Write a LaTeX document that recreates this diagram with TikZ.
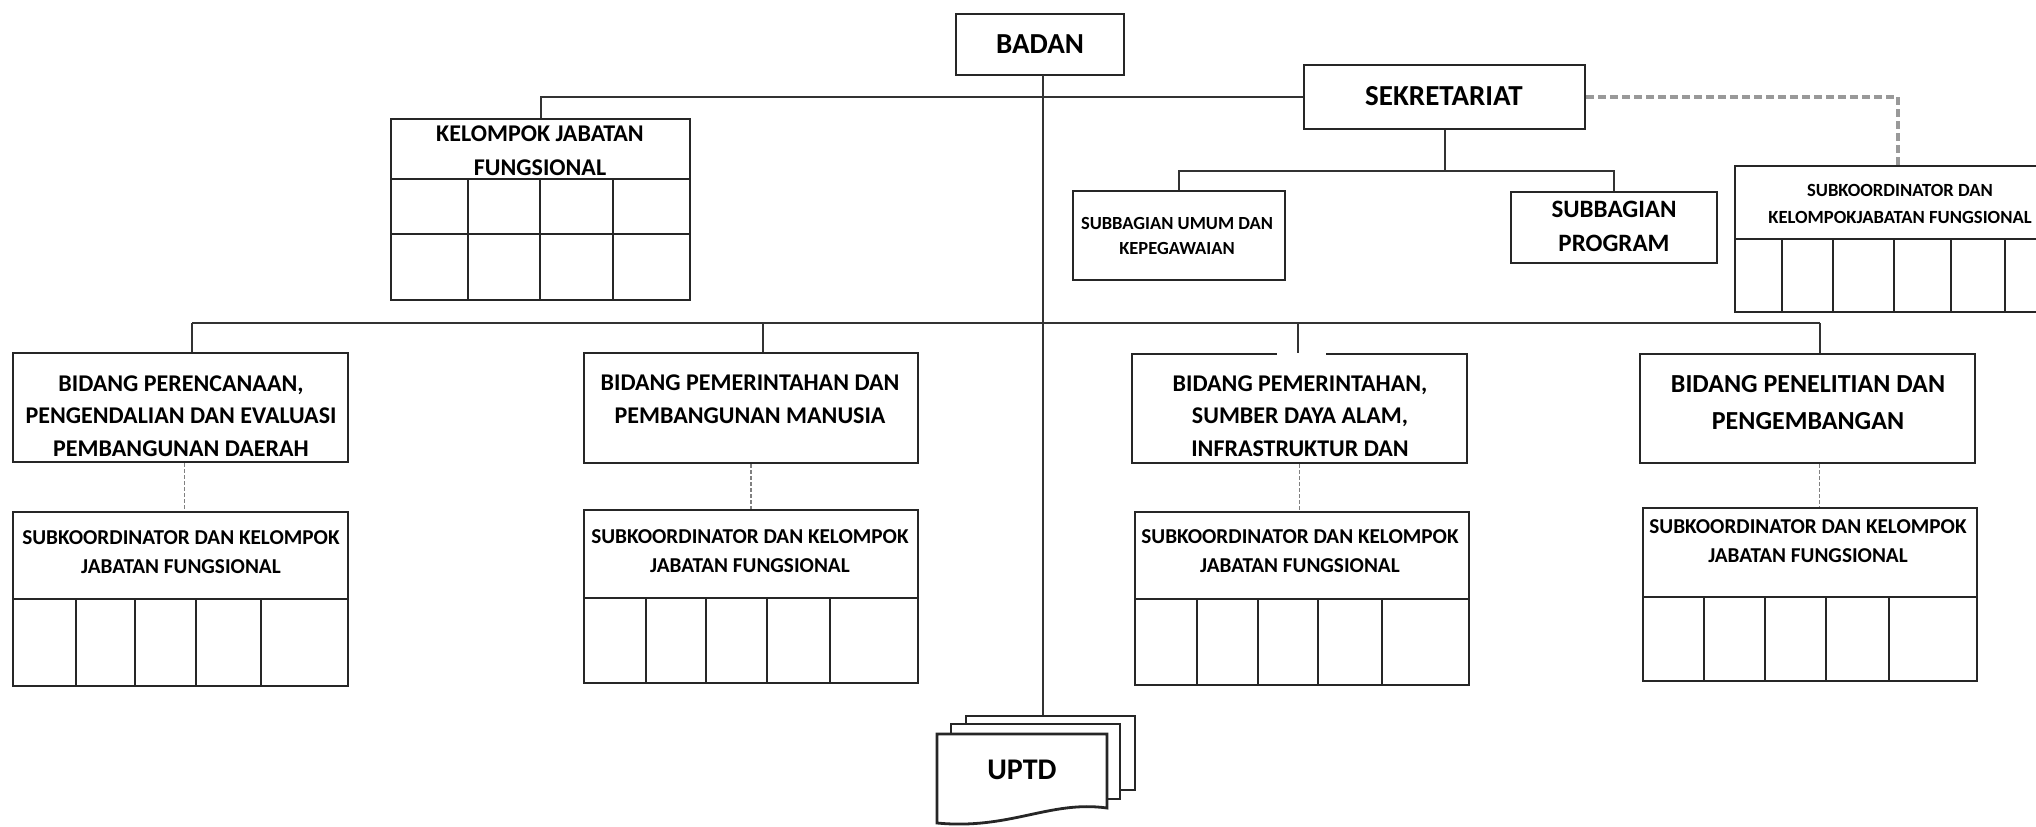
\documentclass[tikz,border=0pt]{standalone}
\usepackage{fontspec}
\setmainfont{Carlito}
\usetikzlibrary{fit}
\begin{document}
\begin{tikzpicture}[x=0.5pt,y=-0.5pt,
  box/.style={draw=black!85, line width=1.4pt, fill=white, inner sep=0pt},
  sheet/.style={draw=black!85, line width=1.4pt, fill=white},
  conn/.style={draw=black!80, line width=1pt},
  grid/.style={draw=black!85, line width=1.2pt},
  dashtop/.style={draw=black!40, line width=1.6pt, dash pattern=on 4pt off 2pt},
  dashsub/.style={draw=black!50, line width=0.9pt, dash pattern=on 1.8pt off 1.2pt},
  lbl/.style={align=center, inner sep=0pt, text=black},
  fA/.style={lbl, font=\bfseries\fontsize{14.5}{17}\selectfont},
  fB/.style={lbl, font=\bfseries\fontsize{12}{16.25}\selectfont},
  fC/.style={lbl, font=\bfseries\fontsize{10.6}{14.5}\selectfont},
  fD/.style={lbl, font=\bfseries\fontsize{9.3}{13.5}\selectfont},
]
\useasboundingbox (0,0) rectangle (2036,826);
\clip (0,0) rectangle (2036,826);
\fill[white] (0,0) rectangle (2036,826);

% ---------- boxes ----------
\node[box, fit={(956,14) (1124,75)}] (badan) {};
\node[box, fit={(1304,65) (1585,129)}] (sek) {};
\node[box, fit={(1073,191) (1285,280)}] (sbu) {};
\node[box, fit={(1511,192) (1717,263)}] (sbp) {};
\node[box, fit={(1735,166) (2060,312)}] (sk0) {};
\node[box, fit={(391,119) (690,300)}] (kjf) {};
\node[box, fit={(13,353) (348,462)}] (b1) {};
\node[box, fit={(584,353) (918,463)}] (b2) {};
\node[box, fit={(1132,354) (1467,463)}] (b3) {};
\node[box, fit={(1640,354) (1975,463)}] (b4) {};
\node[box, fit={(13,512) (348,686)}] (sk1) {};
\node[box, fit={(584,510) (918,683)}] (sk2) {};
\node[box, fit={(1135,512) (1469,685)}] (sk3) {};
\node[box, fit={(1643,508) (1977,681)}] (sk4) {};

% ---------- grids ----------
\draw[grid] (1735,239) -- (2036,239);
\foreach \x in {1782,1833,1894,1951,2005} \draw[grid] (\x,239) -- (\x,312);
\draw[grid] (391,179) -- (690,179);
\draw[grid] (391,234) -- (690,234);
\foreach \x in {468,540,613} \draw[grid] (\x,179) -- (\x,300);
\draw[grid] (13,599) -- (348,599);
\foreach \x in {76,135,196,261} \draw[grid] (\x,599) -- (\x,686);
\draw[grid] (584,598) -- (918,598);
\foreach \x in {646,706,767,830} \draw[grid] (\x,598) -- (\x,683);
\draw[grid] (1135,599) -- (1469,599);
\foreach \x in {1197,1258,1318,1382} \draw[grid] (\x,599) -- (\x,685);
\draw[grid] (1643,597) -- (1977,597);
\foreach \x in {1704,1765,1826,1889} \draw[grid] (\x,597) -- (\x,681);

% ---------- UPTD ----------
\node[box, fit={(966,716) (1135,790)}] (uptdA) {};
\node[box, fit={(951,724) (1120,799)}] (uptdB) {};
\draw[sheet] (937,734) -- (1107,734) -- (1107,808)
  .. controls (1050,800) and (1010,830) .. (937,823) -- cycle;
\node[fA, font=\bfseries\fontsize{15}{18}\selectfont] (uptd) at (1022,770) {UPTD};

% ---------- connectors ----------
\coordinate (bv) at (1043,75);
\draw[conn] (bv) -- (bv |- uptdA.north);
\draw[conn] (kjf.north) |- (sek.west);
\coordinate (sj) at (1446,171);
\draw[conn] (sek.south) -- (sek.south |- sj);
\draw[conn] (sbu.north) |- (sj) -| (sbp.north);
\coordinate (dk) at (1898,166);
\draw[dashtop] (sek.east) -| (dk);

\coordinate (busL) at (192,323);
\coordinate (busR) at (1820,323);
\coordinate (j2) at (763,323);
\coordinate (j3) at (1298,323);
\draw[conn] (busL) -- (busR);
\draw[conn] (busL) -- (busL |- b1.north);
\draw[conn] (j2) -- (j2 |- b2.north);
\draw[white, line width=2.5pt] (1277,354) -- (1326,354);
\draw[conn] (j3) -- (j3 |- b3.north);
\draw[conn] (busR) -- (busR |- b4.north);

\path (b1.south) ++(4,0) coordinate (d1);
\path (b4.south) ++(12,0) coordinate (d4);
\draw[dashsub] (d1) -- (d1 |- sk1.north);
\draw[dashsub] (b2.south) -- (b2.south |- sk2.north);
\draw[dashsub] (b3.south) -- (b3.south |- sk3.north);
\draw[dashsub] (d4) -- (d4 |- sk4.north);

% ---------- texts ----------
\node[fA] (tbadan) at (1040,44) {BADAN};
\node[fA] (tsek) at (1444,96) {SEKRETARIAT};
\node[lbl, font=\bfseries\fontsize{9.25}{12.5}\selectfont] (tsbu) at (1177,235.5) {SUBBAGIAN UMUM DAN\\KEPEGAWAIAN};
\node[lbl, font=\bfseries\fontsize{12.5}{17}\selectfont] (tsbp) at (1614,226) {SUBBAGIAN\\PROGRAM};
\node[fD] (tsk0) at (1900,204) {SUBKOORDINATOR DAN\\KELOMPOKJABATAN FUNGSIONAL};
\node[lbl, font=\bfseries\fontsize{12}{17}\selectfont] (tkjf) at (540,151) {KELOMPOK JABATAN\\FUNGSIONAL};
\node[fB] (tb1) at (181,416) {BIDANG PERENCANAAN,\\PENGENDALIAN DAN EVALUASI\\PEMBANGUNAN DAERAH};
\node[fB] (tb2) at (750,399) {BIDANG PEMERINTAHAN DAN\\PEMBANGUNAN MANUSIA};
\node[fB] (tb3) at (1300,416) {BIDANG PEMERINTAHAN,\\SUMBER DAYA ALAM,\\INFRASTRUKTUR DAN};
\node[lbl, font=\bfseries\fontsize{13}{18.5}\selectfont] (tb4) at (1808,402.5) {BIDANG PENELITIAN DAN\\PENGEMBANGAN};
\node[fC] (tsk1) at (181,552) {SUBKOORDINATOR DAN KELOMPOK\\JABATAN FUNGSIONAL};
\node[fC] (tsk2) at (750,551.5) {SUBKOORDINATOR DAN KELOMPOK\\JABATAN FUNGSIONAL};
\node[fC] (tsk3) at (1300,551.5) {SUBKOORDINATOR DAN KELOMPOK\\JABATAN FUNGSIONAL};
\node[fC] (tsk4) at (1808,541.5) {SUBKOORDINATOR DAN KELOMPOK\\JABATAN FUNGSIONAL};
\end{tikzpicture}
\end{document}
